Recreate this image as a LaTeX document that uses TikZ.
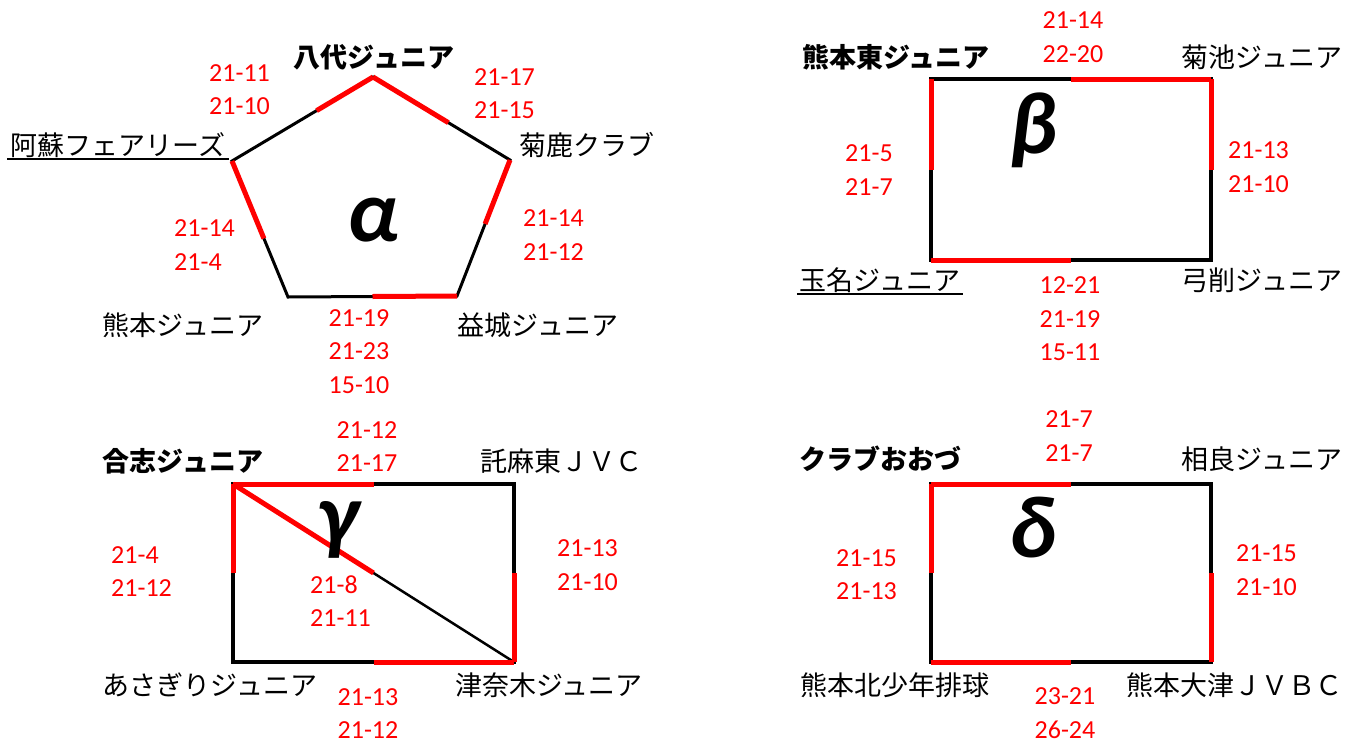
\documentclass[tikz,border=0pt]{standalone}
\usepackage{fontspec}
\setmainfont{Carlito}
\newfontfamily\jp{Noto Sans CJK JP}
\usetikzlibrary{calc}
\tikzset{
  blk/.style={line width=3pt, black},
  rblk/.style={line width=4pt, black},
  dgl/.style={line width=2.5pt, black},
  rd/.style={line width=5pt, red},
  sc/.style={text=red, font=\fontsize{26}{33.5}\selectfont, inner sep=0pt},
  tm/.style={font=\jp\fontsize{27}{32}\selectfont, inner sep=0pt},
  tmb/.style={font=\jp\bfseries\fontsize{27}{32}\selectfont, inner sep=0pt},
  gk/.style={font=\bfseries\itshape\fontsize{88}{88}\selectfont, inner sep=0pt},
  uline/.style={line width=2pt, black}
}
\begin{document}
\begin{tikzpicture}[x=1pt,y=-1pt]
\useasboundingbox (0,0) rectangle (1346,739);
% ---------- alpha pentagon ----------
\coordinate (aT) at (373,77);
\coordinate (aR) at (510,160);
\coordinate (aBR) at (457,296);
\coordinate (aBL) at (288,297);
\coordinate (aL) at (232,161);
\draw[blk, line join=miter] (aT) -- (aR) -- (aBR) -- (aBL) -- (aL) -- cycle;
\draw[rd] (aT) -- ($(aT)!0.4!(aL)$);
\draw[rd] (aT) -- ($(aT)!0.55!(aR)$);
\draw[rd] (aR) -- ($(aR)!0.47!(aBR)$);
\draw[rd] (aL) -- ($(aL)!0.57!(aBL)$);
\draw[rd] (aBR) -- ($(aBR)!0.5!(aBL)$);
\node[gk] (alpha) at (373,220) {α};
\node[tmb] (yatsushiro) at (374,57) {八代ジュニア};
\node[tm] (aso) at (118,145) {阿蘇フェアリーズ};
\draw[uline] ([xshift=-3pt,yshift=-14pt]aso.west) -- ([xshift=3pt,yshift=-14pt]aso.east);
\node[tm] (kikuka) at (587,145) {菊鹿クラブ};
\node[tm] (kumamoto) at (183,325) {熊本ジュニア};
\node[tm] (mashiki) at (538,325) {益城ジュニア};
\node[sc, align=left, anchor=west] (a1) at (209,89.5) {21-11\\21-10};
\node[sc, align=left, anchor=west] (a2) at (474,93.5) {21-17\\21-15};
\node[sc, align=left, anchor=west] (a3) at (523,235) {21-14\\21-12};
\node[sc, align=left, anchor=west] (a4) at (174,245) {21-14\\21-4};
\node[sc, align=center] (a5) at (359,351.5) {21-19\\21-23\\15-10};
% ---------- beta ----------
\coordinate (bA) at (931,79);
\coordinate (bB) at (1211,79);
\coordinate (bC) at (1211,260);
\coordinate (bD) at (931,260);
\draw[rblk, line join=miter] (bA) -- (bB) -- (bC) -- (bD) -- cycle;
\draw[rd] ($(bA)!0.5!(bB)$) -- (bB);
\draw[rd] (bB) -- ($(bB)!0.5!(bC)$);
\draw[rd] (bA) -- ($(bA)!0.5!(bD)$);
\draw[rd] (bD) -- ($(bD)!0.5!(bC)$);
\node[gk] (beta) at (1033,130) {β};
\node[tmb] (kumahigashi) at (896,57) {熊本東ジュニア};
\node[tm] (kikuchi) at (1262,57) {菊池ジュニア};
\node[tm] (tamana) at (880,280) {玉名ジュニア};
\draw[uline] ([xshift=-3pt,yshift=-14pt]tamana.west) -- ([xshift=3pt,yshift=-14pt]tamana.east);
\node[tm] (yuge) at (1262,280) {弓削ジュニア};
\node[sc, align=center] (b1) at (1073,37) {21-14\\22-20};
\node[sc, align=left, anchor=west] (b2) at (845,170) {21-5\\21-7};
\node[sc, align=left, anchor=west] (b3) at (1228,167) {21-13\\21-10};
\node[sc, align=center] (b4) at (1070,319) {12-21\\21-19\\15-11};
% ---------- gamma ----------
\coordinate (gA) at (233,484);
\coordinate (gB) at (514,484);
\coordinate (gC) at (514,662);
\coordinate (gD) at (233,662);
\draw[rblk, line join=miter] (gA) -- (gB) -- (gC) -- (gD) -- cycle;
\draw[dgl] (gA) -- (gC);
\draw[rd] (gA) -- ($(gA)!0.5!(gB)$);
\draw[rd] ($(gB)!0.5!(gC)$) -- (gC);
\draw[rd] (gA) -- ($(gA)!0.5!(gD)$);
\draw[rd] ($(gD)!0.5!(gC)$) -- (gC);
\draw[rd] (gA) -- ($(gA)!0.5!(gC)$);
\node[gk] (gamma) at (338,530) {γ};
\node[tmb] (goshi) at (183,461) {合志ジュニア};
\node[tm] (takuma) at (561,461) {託麻東ＪＶＣ};
\node[tm] (asagiri) at (210,685) {あさぎりジュニア};
\node[tm] (tsunagi) at (549,685) {津奈木ジュニア};
\node[sc, align=center] (g1) at (367,446.5) {21-12\\21-17};
\node[sc, align=left, anchor=west] (g2) at (111,571.5) {21-4\\21-12};
\node[sc, align=left, anchor=west] (g3) at (557,565) {21-13\\21-10};
\node[sc, align=left, anchor=west] (g4) at (310,601) {21-8\\21-11};
\node[sc, align=center] (g5) at (368,713.5) {21-13\\21-12};
% ---------- delta ----------
\coordinate (dA) at (931,484);
\coordinate (dB) at (1211,484);
\coordinate (dC) at (1211,662);
\coordinate (dD) at (931,662);
\draw[rblk, line join=miter] (dA) -- (dB) -- (dC) -- (dD) -- cycle;
\draw[rd] (dA) -- ($(dA)!0.5!(dB)$);
\draw[rd] ($(dB)!0.5!(dC)$) -- (dC);
\draw[rd] (dA) -- ($(dA)!0.5!(dD)$);
\draw[rd] (dD) -- ($(dD)!0.5!(dC)$);
\node[gk] (delta) at (1033,528) {δ};
\node[tmb] (oozu) at (880,459) {クラブおおづ};
\node[tm] (sagara) at (1262,459) {相良ジュニア};
\node[tm] (kitasho) at (895,685) {熊本北少年排球};
\node[tm] (ootsu) at (1234,685) {熊本大津ＪＶＢＣ};
\node[sc, align=center] (d1) at (1069,436) {21-7\\21-7};
\node[sc, align=left, anchor=west] (d2) at (836,574.5) {21-15\\21-13};
\node[sc, align=left, anchor=west] (d3) at (1236,570) {21-15\\21-10};
\node[sc, align=center] (d4) at (1065,713) {23-21\\26-24};
\end{tikzpicture}
\end{document}
